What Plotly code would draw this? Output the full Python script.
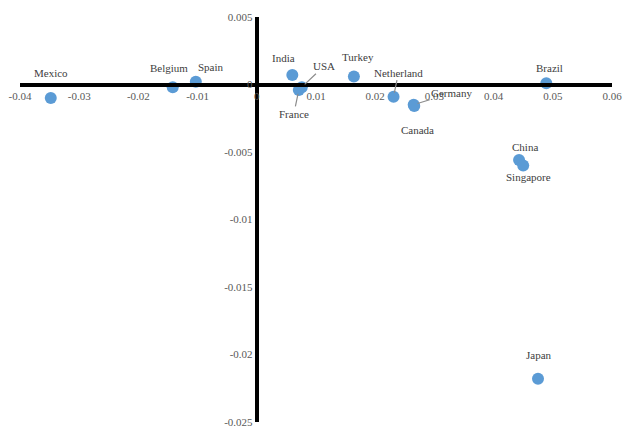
import plotly.graph_objects as go

# ---- data ----
countries = ["Mexico", "Belgium", "Spain", "India", "USA", "France", "Turkey",
             "Netherland", "Germany", "Canada", "Brazil", "China", "Singapore", "Japan"]
x_vals = [-0.0348, -0.0142, -0.0103, 0.0060, 0.0076, 0.0071, 0.0164,
          0.0231, 0.0265, 0.0266, 0.0489, 0.0443, 0.0450, 0.0475]
y_vals = [-0.0010, -0.0002, 0.0002, 0.0007, -0.0002, -0.0004, 0.0006,
          -0.0009, -0.0015, -0.0016, 0.0001, -0.0056, -0.0060, -0.0218]

x_tickvals = [-0.04, -0.03, -0.02, -0.01, 0, 0.01, 0.02, 0.03, 0.04, 0.05, 0.06]
x_ticktext = ["-0.04", "-0.03", "-0.02", "-0.01", "0", "0.01", "0.02", "0.03", "0.04", "0.05", "0.06"]
y_tickvals = [0.005, 0, -0.005, -0.01, -0.015, -0.02, -0.025]
y_ticktext = ["0.005", "0", "-0.005", "-0.01", "-0.015", "-0.02", "-0.025"]

# ---- label placement (pixel offsets of label centre from point; leader flag) ----
label_style = {
    "Mexico": (0, -25, False),
    "Belgium": (-4, -19, False),
    "Spain": (15, -15, False),
    "India": (-9, -17, False),
    "USA": (22, -21, True),
    "France": (-5, 24, True),
    "Turkey": (4, -19, False),
    "Netherland": (5, -24, True),
    "Germany": (38, -12, True),
    "Canada": (3, 24, False),
    "Brazil": (3, -15, False),
    "China": (6, -13, False),
    "Singapore": (5, 11, False),
    "Japan": (1, -24, False),
}

FONT = "Times New Roman, Liberation Serif, DejaVu Serif, serif"

fig = go.Figure()
fig.add_trace(go.Scatter(
    x=x_vals, y=y_vals, mode="markers",
    marker=dict(color="#5B9BD5", size=12, line=dict(width=0)),
    hoverinfo="text", text=countries, showlegend=False,
))

annotations = []
for name, xv, yv in zip(countries, x_vals, y_vals):
    dx, dy, leader = label_style[name]
    if leader:
        annotations.append(dict(
            x=xv, y=yv, xref="x", yref="y", text=name,
            showarrow=True, arrowhead=0, arrowwidth=1.2, arrowcolor="#8c8c8c",
            ax=dx, ay=dy, standoff=4,
            font=dict(family=FONT, size=11, color="#404040"),
        ))
    else:
        annotations.append(dict(
            x=xv, y=yv, xref="x", yref="y", text=name, showarrow=False,
            xshift=dx, yshift=-dy,
            font=dict(family=FONT, size=11, color="#404040"),
        ))

xr = [-0.04, 0.06]
yr = [-0.025, 0.005]
fig.update_layout(
    width=624, height=432,
    margin=dict(l=20, r=12, t=17, b=10),
    paper_bgcolor="white", plot_bgcolor="white",
    font=dict(family=FONT, size=11, color="#595959"),
    annotations=annotations,
    xaxis=dict(
        range=xr, tickvals=x_tickvals, ticktext=x_ticktext,
        showgrid=False, zeroline=False, showline=True, linewidth=4, linecolor="black",
        anchor="free", position=(0 - yr[0]) / (yr[1] - yr[0]), side="bottom",
        ticks="", automargin=False,
        tickfont=dict(family=FONT, size=11, color="#595959"),
    ),
    yaxis=dict(
        range=yr, tickvals=y_tickvals, ticktext=y_ticktext,
        showgrid=False, zeroline=False, showline=True, linewidth=4, linecolor="black",
        anchor="free", position=(0 - xr[0]) / (xr[1] - xr[0]), side="left",
        ticks="", automargin=False,
        tickfont=dict(family=FONT, size=11, color="#595959"),
    ),
)

fig.write_html("out.html", config={"displayModeBar": False},
               post_script="document.body.style.margin='0';")
